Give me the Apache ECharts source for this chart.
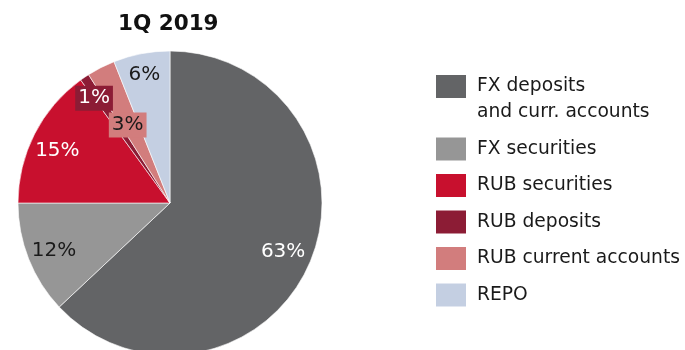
<!DOCTYPE html>
<html>
<head>
<meta charset="utf-8">
<script src="https://cdn.jsdelivr.net/npm/echarts@6/dist/echarts.min.js"></script>
<style>
  html, body { margin: 0; padding: 0; background: #fff; }
  #chart { width: 685px; height: 350px; }
</style>
</head>
<body>
<div id="chart"></div>
<script>
// data
const categories = ['FX deposits and curr. accounts', 'FX securities', 'RUB securities', 'RUB deposits', 'RUB current accounts', 'REPO'];
const shares = [63, 12, 15, 1, 3, 6];
const colors = ['#636466', '#969696', '#c8102e', '#8c1c35', '#d27d7d', '#c4cfe2'];
const labelColors = ['#fff', '#1a1a1a', '#fff', '#fff', '#1a1a1a', '#1a1a1a'];

// pie geometry
const cx = 170, cy = 203;
// how far each label is pushed out from the default inside spot, plus a small vertical nudge
const labelPush = [0.56, 0.58, 0.6, 0.71, 0.18, 0.73];
const labelNudge = [0, 2, 5, 7, 5, 6];

const chart = echarts.init(document.getElementById('chart'));

const pieData = categories.map((name, i) => ({
  name: name,
  value: shares[i],
  itemStyle: { color: colors[i] },
  label: {
    color: labelColors[i],
    backgroundColor: (i === 3 || i === 4) ? colors[i] : 'transparent',
    padding: (i === 3 || i === 4) ? [3, 3, 2, 3] : 0
  }
}));

chart.setOption({
  animation: false,
  textStyle: { fontFamily: 'DejaVu Sans' },
  title: {
    text: '1Q 2019',
    left: 113,
    top: 8,
    textStyle: { fontFamily: 'DejaVu Sans', fontWeight: 'bold', fontSize: 21.5, color: '#111' }
  },
  legend: {
    orient: 'vertical',
    left: 436,
    top: 47.5,
    padding: 0,
    itemWidth: 30,
    itemHeight: 23,
    itemGap: 10.5,
    icon: 'rect',
    itemStyle: { borderWidth: 0 },
    data: categories,
    // blank first line keeps "FX deposits" level with its square
    formatter: name => name === categories[0] ? ' \nFX deposits\nand curr. accounts' : name,
    textStyle: { fontFamily: 'DejaVu Sans', fontSize: 18.7, color: '#1a1a1a', lineHeight: 26, padding: [0, 0, 0, 6] }
  },
  series: [{
    type: 'pie',
    center: [cx, cy],
    radius: [0, 152],
    startAngle: 90,
    clockwise: true,
    data: pieData,
    itemStyle: { borderColor: '#fff', borderWidth: 0.6 },
    label: {
      show: true,
      position: 'inside',
      fontFamily: 'DejaVu Sans',
      fontSize: 20,
      formatter: p => Math.round(p.percent) + '%'
    },
    labelLine: { show: false },
    labelLayout: function (p) {
      const r = p.labelRect;
      const lx = r.x + r.width / 2;
      const ly = r.y + r.height / 2;
      const k = labelPush[p.dataIndex];
      return { dx: (lx - cx) * k, dy: (ly - cy) * k + labelNudge[p.dataIndex] };
    },
    emphasis: { disabled: true }
  }]
});
</script>
</body>
</html>
